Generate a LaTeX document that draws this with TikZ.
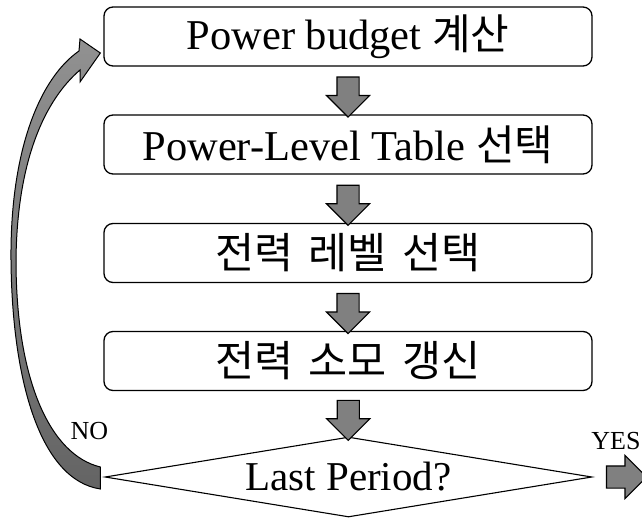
\documentclass[tikz,border=0pt]{standalone}
\usepackage{fontspec}
\setmainfont{Liberation Serif}
\newfontfamily\kr{Noto Sans CJK KR}
\usetikzlibrary{shapes.geometric,shapes.arrows,calc}
\definecolor{arrowgray}{RGB}{128,128,128}
\definecolor{curvetop}{RGB}{145,145,145}
\definecolor{curvebot}{RGB}{100,100,100}
\newcommand\krsp{\hspace{15pt}}
\begin{document}
\begin{tikzpicture}[x=1pt,y=-1pt,
  stepbox/.style={draw,line width=1.3pt,rounded corners=9pt,minimum width=488pt,minimum height=59pt,inner sep=0pt,font=\fontsize{42.5}{50}\selectfont},
  krtext/.style={font=\fontsize{42.5}{50}\selectfont\kr},
  decision/.style={draw,line width=1.1pt,diamond,aspect=6.1,minimum width=487pt,minimum height=80pt,inner sep=0pt,font=\fontsize{41}{49}\selectfont},
  blockarrow/.style={single arrow,draw,line width=1.1pt,fill=arrowgray,minimum height=40pt,single arrow head extend=10.5pt,inner xsep=0pt,inner ysep=10.5pt},
  lbl/.style={inner sep=0pt,font=\fontsize{26}{30}\selectfont},
  curvearrow/.style={draw,line width=1pt,top color=curvetop,bottom color=curvebot}]
\useasboundingbox (0,0) rectangle (642,519);
\node[stepbox] (b1) at (348,36.5) {Power budget {\fontsize{42}{50}\selectfont\kr 계산}};
\node[stepbox] (b2) at (348,144.5) {Power-Level Table {\fontsize{42}{50}\selectfont\kr 선택}};
\node[stepbox,krtext] (b3) at (348,253) {전력\krsp 레벨\krsp 선택};
\node[stepbox,krtext] (b4) at (348,361) {전력\krsp 소모\krsp 갱신};
\node[decision] (d) at (348.5,477) {Last Period?};
\node[blockarrow,rotate=-90] (a1) at ($(b1.south)!0.5!(b2.north)+(0,1)$) {};
\node[blockarrow,rotate=-90] (a2) at ($(b2.south)!0.5!(b3.north)+(0,1)$) {};
\node[blockarrow,rotate=-90] (a3) at ($(b3.south)!0.5!(b4.north)+(0,1)$) {};
\node[blockarrow,rotate=-90] (a4) at ($(b4.south)!0.5!(d.north)+(0,1)$) {};
\node[blockarrow] (yes) at (621,477) {};
\node[lbl] (yeslbl) at (616,441) {YES};
\node[lbl] (nolbl) at (89.5,431.5) {NO};
\coordinate (tailtop) at ($(d.west)+(-4,-10)$);
\coordinate (tailbot) at ($(d.west)+(-4,12)$);
\coordinate (tip) at ($(b1.west)+(-3,16.5)$);
\path[curvearrow] (80,39) -- (tip) -- (80,82) -- (80,70)
  .. controls (45,100) and (17,160) .. (16,260)
  .. controls (16,380) and (50,455) .. (tailtop)
  -- (tailbot)
  .. controls (40,480) and (12,380) .. (11,260)
  .. controls (10,150) and (40,78) .. (79,51) -- cycle;
\end{tikzpicture}
\end{document}
